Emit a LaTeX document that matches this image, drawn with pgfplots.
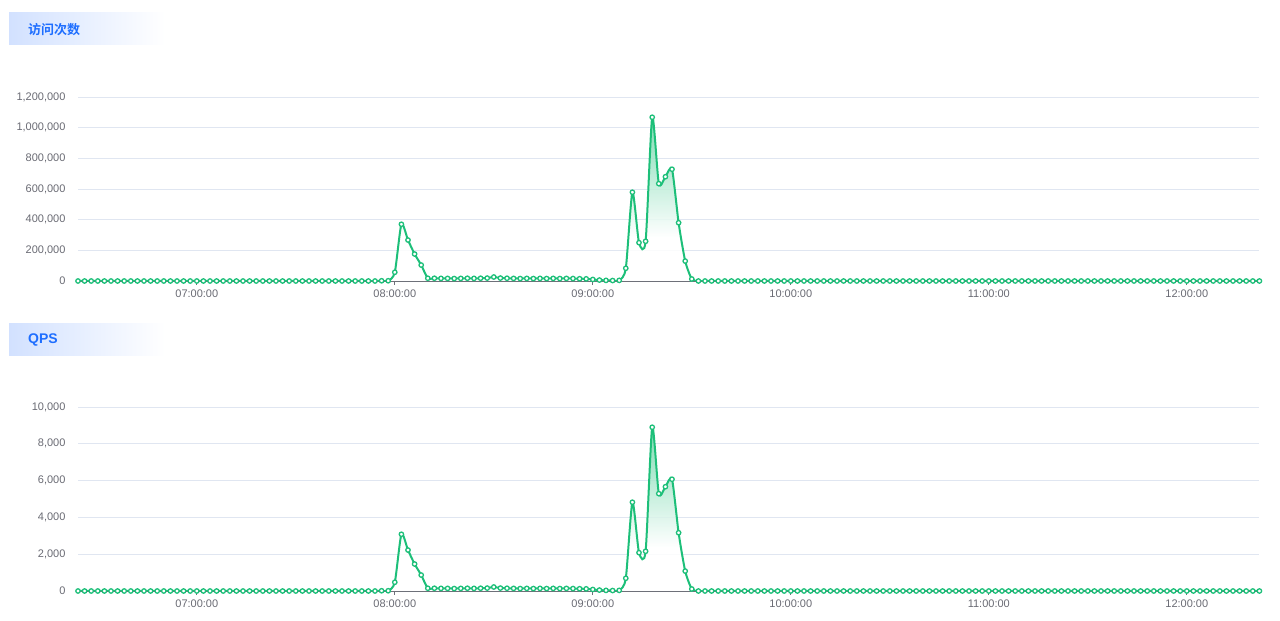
\documentclass[border=0pt]{standalone}
\usepackage{pgfplots}
\pgfplotsset{compat=1.18}
\usepackage{pgfplotstable}
\usepackage{fontspec}
\setmainfont{Liberation Sans}
\newfontfamily\cjk{Noto Sans CJK SC}[BoldFont={Noto Sans CJK SC Bold}]
\definecolor{lc}{HTML}{1DBF79}
\definecolor{gridc}{HTML}{E0E6F1}
\definecolor{axc}{HTML}{6E7079}
\definecolor{titc}{HTML}{1E6EFF}
\definecolor{boxc}{HTML}{D2E1FF}
\pgfdeclareverticalshading{peakfade}{100bp}{color(0bp)=(white); color(38bp)=(white); color(75bp)=(lc!70); color(100bp)=(lc!70)}

% t = minutes after 07:00, v = visits per 2 min, q = QPS
\pgfplotstableread[row sep=\\]{
t v q\\
-36 0 0\\ -34 0 0\\ -32 0 0\\ -30 0 0\\ -28 0 0\\ -26 0 0\\ -24 0 0\\ -22 0 0\\
-20 0 0\\ -18 0 0\\ -16 0 0\\ -14 0 0\\ -12 0 0\\ -10 0 0\\ -8 0 0\\ -6 0 0\\
-4 0 0\\ -2 0 0\\ 0 0 0\\ 2 0 0\\ 4 0 0\\ 6 0 0\\ 8 0 0\\ 10 0 0\\
12 0 0\\ 14 0 0\\ 16 0 0\\ 18 0 0\\ 20 0 0\\ 22 0 0\\ 24 0 0\\ 26 0 0\\
28 0 0\\ 30 0 0\\ 32 0 0\\ 34 0 0\\ 36 0 0\\ 38 0 0\\ 40 0 0\\ 42 0 0\\
44 0 0\\ 46 0 0\\ 48 0 0\\ 50 0 0\\ 52 0 0\\ 54 0 0\\
56 1500 13\\ 58 1500 13\\
60 57000 475\\ 62 370000 3083\\ 64 267000 2225\\ 66 176000 1467\\ 68 104000 867\\
70 18000 150\\ 72 18000 150\\ 74 17000 142\\ 76 17000 142\\ 78 16000 133\\
80 17000 142\\ 82 18000 150\\ 84 17000 142\\ 86 18000 150\\ 88 19000 158\\
90 26000 217\\ 92 19000 158\\ 94 18000 150\\ 96 17000 142\\ 98 16000 133\\
100 17000 142\\ 102 16000 133\\ 104 17000 142\\ 106 16000 133\\ 108 17000 142\\
110 16000 133\\ 112 17000 142\\ 114 16000 133\\ 116 15000 125\\ 118 14000 117\\
120 10000 83\\ 122 6000 50\\ 124 4000 33\\ 126 3000 25\\ 128 4000 33\\
130 83000 692\\ 132 579000 4825\\ 134 250000 2083\\ 136 259000 2158\\ 138 1068000 8900\\
140 635000 5292\\ 142 680000 5667\\ 144 729000 6075\\ 146 380000 3167\\ 148 130000 1083\\
150 13000 108\\
152 0 0\\ 154 0 0\\ 156 0 0\\ 158 0 0\\ 160 0 0\\ 162 0 0\\ 164 0 0\\ 166 0 0\\
168 0 0\\ 170 0 0\\ 172 0 0\\ 174 0 0\\ 176 0 0\\ 178 0 0\\ 180 0 0\\ 182 0 0\\
184 0 0\\ 186 0 0\\ 188 0 0\\ 190 0 0\\ 192 0 0\\ 194 0 0\\ 196 0 0\\ 198 0 0\\
200 0 0\\ 202 0 0\\ 204 0 0\\ 206 0 0\\ 208 0 0\\ 210 0 0\\ 212 0 0\\ 214 0 0\\
216 0 0\\ 218 0 0\\ 220 0 0\\ 222 0 0\\ 224 0 0\\ 226 0 0\\ 228 0 0\\ 230 0 0\\
232 0 0\\ 234 0 0\\ 236 0 0\\ 238 0 0\\ 240 0 0\\ 242 0 0\\ 244 0 0\\ 246 0 0\\
248 0 0\\ 250 0 0\\ 252 0 0\\ 254 0 0\\ 256 0 0\\ 258 0 0\\ 260 0 0\\ 262 0 0\\
264 0 0\\ 266 0 0\\ 268 0 0\\ 270 0 0\\ 272 0 0\\ 274 0 0\\ 276 0 0\\ 278 0 0\\
280 0 0\\ 282 0 0\\ 284 0 0\\ 286 0 0\\ 288 0 0\\ 290 0 0\\ 292 0 0\\ 294 0 0\\
296 0 0\\ 298 0 0\\ 300 0 0\\ 302 0 0\\ 304 0 0\\ 306 0 0\\ 308 0 0\\ 310 0 0\\
312 0 0\\ 314 0 0\\ 316 0 0\\ 318 0 0\\ 320 0 0\\ 322 0 0\\
}\data

\pgfplotsset{
  mychart/.style={
    scale only axis, width=1181.4pt, height=184pt,
    xmin=-36, xmax=322, ymin=0,
    xtick={0,60,120,180,240,300},
    xticklabels={07:00:00,08:00:00,09:00:00,10:00:00,11:00:00,12:00:00},
    axis lines*=left,
    x axis line style={axc, line width=0.9pt, -},
    y axis line style={draw=none},
    tick align=outside, major tick length=4pt,
    xtick style={axc, line width=0.9pt},
    ytick style={draw=none},
    ymajorgrids, grid style={gridc, line width=0.9pt},
    tick label style={font=\fontsize{11}{13}\selectfont, text=axc!95!black},
    yticklabel style={xshift=-5pt, /pgf/number format/fixed, /pgf/number format/1000 sep={,}, /pgf/number format/assume math mode=true},
    xticklabel style={yshift=-1pt},
    scaled y ticks=false,
    clip mode=individual,
  },
  fillplot/.style={draw=none, shade, shading=peakfade, fill opacity=0.85, smooth, tension=0.4, forget plot},
  lineplot/.style={lc, line width=2pt, smooth, tension=0.4, mark=*, mark size=2.2pt, mark options={fill=white, draw=lc, line width=1.3pt, solid}},
}

\begin{document}
\begin{tikzpicture}[x=1pt,y=1pt]
\path[use as bounding box] (0,0) rectangle (1280,621);
% title boxes
\shade[left color=boxc, right color=white] (9,576) rectangle (165,608);
\node[anchor=west, inner sep=0pt, font=\cjk\bfseries\fontsize{13}{15}\selectfont, text=titc] at (28,591) {访问次数};
\shade[left color=boxc, right color=white] (9,265) rectangle (165,297);
\node[anchor=west, inner sep=0pt, font=\bfseries\fontsize{14}{15}\selectfont, text=titc] at (28,281) {QPS};

\begin{axis}[mychart, at={(78pt,340pt)}, anchor=south west, ymax=1200000,
  ytick={0,200000,400000,600000,800000,1000000,1200000}]
\addplot[fillplot] table[x=t,y=v]{\data} \closedcycle;
\addplot[lineplot] table[x=t,y=v]{\data};
\end{axis}

\begin{axis}[mychart, at={(78pt,30pt)}, anchor=south west, ymax=10000,
  ytick={0,2000,4000,6000,8000,10000}]
\addplot[fillplot] table[x=t,y=q]{\data} \closedcycle;
\addplot[lineplot] table[x=t,y=q]{\data};
\end{axis}
\end{tikzpicture}
\end{document}
